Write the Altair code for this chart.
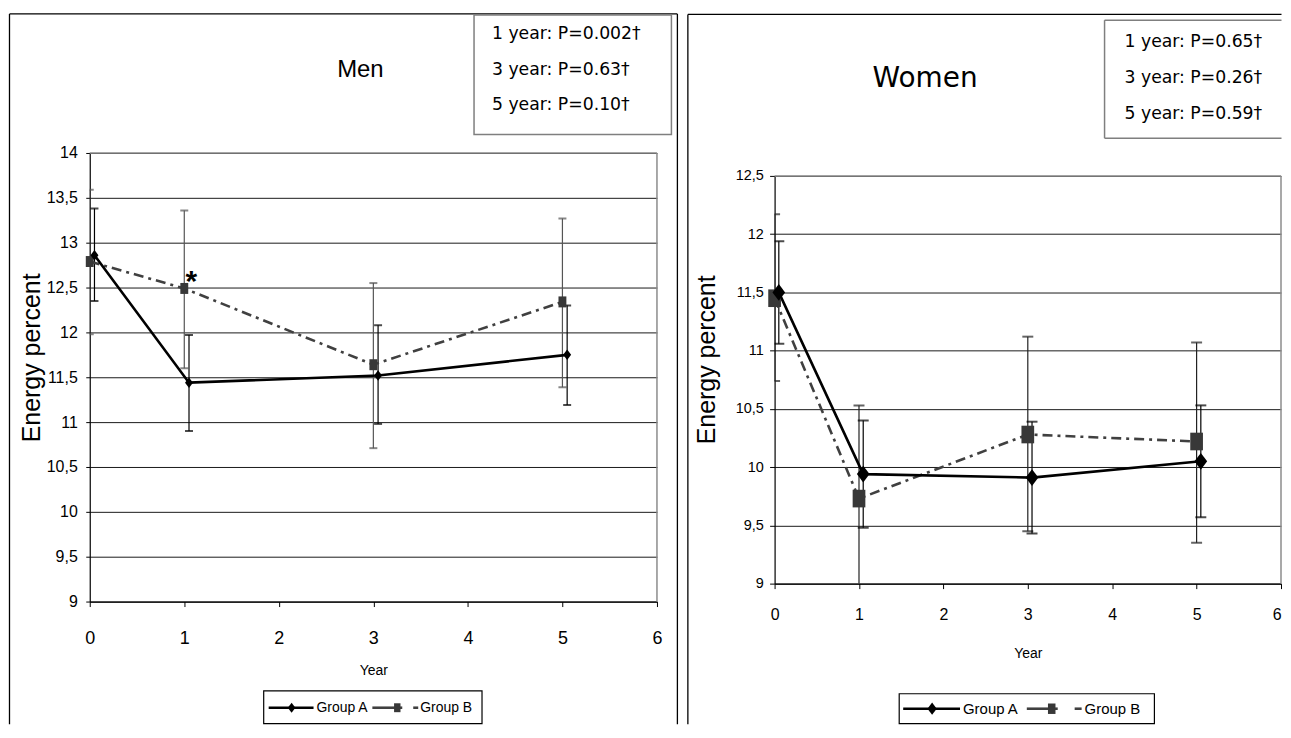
import altair as alt
import pandas as pd

# ---------------- data ----------------
years_a = [0.05, 1.05, 3.05, 5.05]   # Group A is drawn slightly right of the year
years_b = [0, 1, 3, 5]

men_a = [12.86, 11.44, 11.52, 11.75]
men_a_lo = [12.35, 10.90, 10.98, 11.19]
men_a_hi = [13.38, 11.97, 12.08, 12.30]
men_b = [12.79, 12.49, 11.64, 12.34]
men_b_lo = [11.98, 11.60, 10.71, 11.39]
men_b_hi = [13.59, 13.36, 12.55, 13.27]

women_a = [11.50, 9.94, 9.91, 10.05]
women_a_lo = [11.06, 9.48, 9.43, 9.57]
women_a_hi = [11.94, 10.40, 10.39, 10.53]
women_b = [11.45, 9.73, 10.28, 10.22]
women_b_lo = [10.74, 8.93, 9.45, 9.35]
women_b_hi = [12.17, 10.53, 11.12, 11.07]

x_ticks = [0, 1, 2, 3, 4, 5, 6]
men_y_ticks = [9, 9.5, 10, 10.5, 11, 11.5, 12, 12.5, 13, 13.5, 14]
women_y_ticks = [9, 9.5, 10, 10.5, 11, 11.5, 12, 12.5]

men_pvalues = ["1 year: P=0.002\u2020", "3 year: P=0.63\u2020", "5 year: P=0.10\u2020"]
women_pvalues = ["1 year: P=0.65\u2020", "3 year: P=0.26\u2020", "5 year: P=0.59\u2020"]
group_names = ["Group A", "Group B"]
star_year = 1
star_text = "*"

# ---------------- styles ----------------
SANS = "Liberation Sans, Arial, sans-serif"
PFONT = "DejaVu Sans, sans-serif"
DIAMOND = "M0,-1L0.76,0L0,1L-0.76,0Z"
RECT = "M-0.72,-1L0.72,-1L0.72,1L-0.72,1Z"
DASH_B = [10, 5, 3, 5]
ONE = pd.DataFrame({"k": [0]})


def panel(c):
    ox, oy = c["origin"]

    def X(p):
        return p - ox

    def Y(p):
        return p - oy

    deco_back, deco_front = [], []

    def hline(x1, x2, y, color="black", w=1.0, front=False):
        ch = alt.Chart(ONE).mark_rule(color=color, strokeWidth=w).encode(
            x=alt.value(X(x1)), x2=alt.value(X(x2)), y=alt.value(Y(y)))
        (deco_front if front else deco_back).append(ch)

    def vline(x, y1, y2, color="black", w=1.0):
        deco_back.append(alt.Chart(ONE).mark_rule(color=color, strokeWidth=w).encode(
            x=alt.value(X(x)), y=alt.value(Y(y1)), y2=alt.value(Y(y2))))

    def label(s, x, y, font, size, align="left", baseline="middle", front=False):
        ch = alt.Chart(ONE).mark_text(text=s, font=font, fontSize=size, align=align,
                                      baseline=baseline, color="black").encode(
            x=alt.value(X(x)), y=alt.value(Y(y)))
        (deco_front if front else deco_back).append(ch)

    def marker(shape, x, y, size, color):
        deco_front.append(alt.Chart(ONE).mark_point(shape=shape, filled=True, size=size,
                                                     color=color, opacity=1, strokeWidth=0).encode(
            x=alt.value(X(x)), y=alt.value(Y(y))))

    # outer frame
    for (x1, x2, y) in c["frame_h"]:
        hline(x1, x2, y, w=1.3)
    for (x, y1, y2) in c["frame_v"]:
        vline(x, y1, y2, w=1.3)
    # title
    tx, ty, tfont, tsize = c["title_pos"]
    label(c["title"], tx, ty, tfont, tsize, align="center")
    # p-value box
    if c.get("pbox_rect"):
        x1, x2, y1, y2 = c["pbox_rect"]
        deco_back.append(alt.Chart(ONE).mark_rect(fill="white", stroke="#7f7f7f", strokeWidth=1.5).encode(
            x=alt.value(X(x1)), x2=alt.value(X(x2)), y=alt.value(Y(y1)), y2=alt.value(Y(y2))))
    for (x1, x2, y) in c.get("pbox_h", []):
        hline(x1, x2, y, color="#7f7f7f", w=1.5)
    for (x, y1, y2) in c.get("pbox_v", []):
        vline(x, y1, y2, color="#7f7f7f", w=1.5)
    px, prow = c["ptext"]
    for s, yy in zip(c["pvalues"], prow):
        label(s, px, yy, PFONT, 17.3)

    # ---------------- data layers ----------------
    xs = alt.Scale(domain=[0, 6], nice=False, zero=False)
    ykw = dict(domain=c["ydom"], nice=False, zero=False)
    if c.get("yrange"):
        ykw["range"] = c["yrange"]
    ys = alt.Scale(**ykw)
    xaxis_kw = dict(values=x_ticks, format="d", title="Year", grid=False,
                    labelFont=SANS, labelFontSize=c["xlab_size"], labelColor="black",
                    labelBaseline="alphabetic", labelPadding=c["xlab_pad"],
                    labelFlush=False, labelOverlap=False,
                    tickSize=5, tickColor="black", tickWidth=1,
                    domainColor="black", domainWidth=1.2,
                    titleFont=SANS, titleFontSize=c["xtitle_size"], titleFontWeight="normal",
                    titleColor="black", titleBaseline="alphabetic", titleY=c["xtitle_y"],
                    titleX=c["width"] / 2, titleAlign="center")
    if c.get("last_label_right"):
        xaxis_kw["labelAlign"] = {"condition": {"test": "datum.value == 6", "value": "right"},
                                  "value": "center"}
    xaxis = alt.Axis(**xaxis_kw)
    yaxis = alt.Axis(values=c["yticks"], format="~g",
                     labelExpr="replace(datum.label, '.', ',')",
                     labelFont=SANS, labelFontSize=c["ylab_size"], labelColor="black",
                     labelPadding=c["ylab_pad"], labelFlush=False, labelOverlap=False,
                     tickSize=c["ytick"], tickColor="black", tickWidth=1,
                     domainColor="black", domainWidth=1.2,
                     grid=True, gridColor="#1a1a1a", gridWidth=1,
                     title="Energy percent", titleFont=SANS, titleFontSize=25,
                     titleFontWeight="normal", titleColor="black", titleAngle=270,
                     titleAlign="center", titleBaseline="middle",
                     titleX=c["ytitle_x"], titleY=c["ytitle_y"])

    da = pd.DataFrame({"year": years_a, "val": c["a"], "lo": c["a_lo"], "hi": c["a_hi"]})
    db = pd.DataFrame({"year": years_b, "val": c["b"], "lo": c["b_lo"], "hi": c["b_hi"]})

    def enc(field):
        return dict(x=alt.X("year:Q", scale=xs, axis=xaxis),
                    y=alt.Y(field + ":Q", scale=ys, axis=yaxis))

    data_layers = []
    for df, col in ((db, c["err_b"]), (da, c["err_a"])):
        data_layers.append(alt.Chart(df).mark_rule(color=col, strokeWidth=1.2, clip=True).encode(
            y2="hi:Q", **enc("lo")))
        for f in ("lo", "hi"):
            data_layers.append(alt.Chart(df).mark_tick(color=col, orient="horizontal",
                                                       size=c["cap"], thickness=2, clip=True).encode(**enc(f)))
    data_layers.append(alt.Chart(db).mark_line(color="#404040", strokeWidth=2.6,
                                               strokeDash=DASH_B).encode(**enc("val")))
    data_layers.append(alt.Chart(da).mark_line(color="black", strokeWidth=2.6).encode(**enc("val")))
    data_layers.append(alt.Chart(db).mark_point(shape=RECT, filled=True, size=c["sq_size"],
                                                color="#383838", opacity=1).encode(**enc("val")))
    data_layers.append(alt.Chart(da).mark_point(shape=DIAMOND, filled=True, size=c["dm_size"],
                                                color="black", opacity=1).encode(**enc("val")))
    if c.get("star"):
        data_layers.append(alt.Chart(db).transform_filter(f"datum.year == {star_year}").mark_text(
            text=star_text, font=SANS, fontSize=30, fontWeight="bold", color="black",
            align="center", baseline="alphabetic", dx=7, dy=3).encode(**enc("val")))

    # plot border (top and right, grey)
    top_y = c["ydom"][1]
    data_layers.append(alt.Chart(ONE).mark_rule(color="#8c8c8c", strokeWidth=1.5).encode(
        x=alt.X("xa:Q", scale=xs, axis=xaxis), x2=alt.X2("xb:Q"),
        y=alt.Y("yt:Q", scale=ys, axis=yaxis)).transform_calculate(xa="0", xb="6", yt=str(top_y)))
    data_layers.append(alt.Chart(ONE).mark_rule(color="#8c8c8c", strokeWidth=1.5).encode(
        x=alt.X("xb:Q", scale=xs, axis=xaxis),
        y=alt.Y("ya:Q", scale=ys, axis=yaxis), y2=alt.Y2("yt:Q")).transform_calculate(
        xb="6", ya=str(c["ydom"][0]), yt=str(top_y)))

    # legend
    lg = c["legend"]
    bx1, bx2, by1, by2 = lg["box"]
    deco_front.append(alt.Chart(ONE).mark_rect(fill="white", stroke="black", strokeWidth=1.2).encode(
        x=alt.value(X(bx1)), x2=alt.value(X(bx2)), y=alt.value(Y(by1)), y2=alt.value(Y(by2))))
    ly = lg["y"]
    hline(lg["a_line"][0], lg["a_line"][1], ly, w=2.6, front=True)
    marker(DIAMOND, lg["a_mark"], ly, lg["dm"], "black")
    label(group_names[0], lg["a_text"], ly, SANS, lg["font"], front=True)
    hline(lg["b_line"][0], lg["b_line"][1], ly, color="#404040", w=2.6, front=True)
    hline(lg["b_dash"][0], lg["b_dash"][1], ly, color="#404040", w=2.6, front=True)
    marker(RECT, lg["b_mark"], ly, lg["sq"], "#383838")
    label(group_names[1], lg["b_text"], ly, SANS, lg["font"], front=True)

    return alt.layer(*(deco_back + data_layers + deco_front)).properties(
        width=c["width"], height=c["height"])


BOTTOM = 724.5

men_cfg = dict(
    origin=(88.5, 151.5), width=569, height=450, ydom=[9, 14], yticks=men_y_ticks,
    frame_h=[(8, 678, 12)], frame_v=[(8, 12, BOTTOM), (678, 12, BOTTOM)],
    title="Men", title_pos=(360, 68, SANS, 24),
    pbox_rect=(474, 672, 13, 133), ptext=(492, [32, 68, 103]), pvalues=men_pvalues,
    xlab_size=18, xlab_pad=37, xtitle_size=14, xtitle_y=73,
    ylab_size=16, ylab_pad=8.5, ytick=4, ytitle_x=-58, ytitle_y=205,
    a=men_a, a_lo=men_a_lo, a_hi=men_a_hi, b=men_b, b_lo=men_b_lo, b_hi=men_b_hi,
    err_a="black", err_b="#555555", cap=8, sq_size=121, dm_size=110, star=True,
    legend=dict(box=(263, 482, 691, 724), y=708, a_line=(268, 313), a_mark=291, a_text=316,
                b_line=(372, 402), b_mark=397, b_dash=(413, 418), b_text=420,
                font=14, dm=100, sq=80),
)

women_cfg = dict(
    origin=(774, 151.5), width=508, height=432, ydom=[9, 12.5], yrange=[432, 23],
    yticks=women_y_ticks, last_label_right=True,
    frame_h=[(687, 1282.5, 12.5)], frame_v=[(687, 12.5, BOTTOM)],
    title="Women", title_pos=(925, 77, PFONT, 28),
    pbox_h=[(1105, 1282.5, 18.3), (1105, 1282.5, 136.7)], pbox_v=[(1105, 18.3, 136.7)],
    ptext=(1125, [40, 76, 112]), pvalues=women_pvalues,
    xlab_size=16, xlab_pad=30.5, xtitle_size=14, xtitle_y=74,
    ylab_size=14.5, ylab_pad=6.3, ytick=5, ytitle_x=-68.5, ytitle_y=207,
    a=women_a, a_lo=women_a_lo, a_hi=women_a_hi, b=women_b, b_lo=women_b_lo, b_hi=women_b_hi,
    err_a="black", err_b="#222222", cap=11, sq_size=313, dm_size=280, star=False,
    legend=dict(box=(899, 1155, 694, 724), y=709, a_line=(903, 960), a_mark=932, a_text=963,
                b_line=(1027, 1058), b_mark=1052, b_dash=(1075, 1082), b_text=1085,
                font=15, dm=150, sq=110),
)

chart = alt.hconcat(panel(men_cfg), panel(women_cfg), spacing=8).properties(
    padding={"left": 0, "top": 3.3, "right": 0, "bottom": 0}
).configure_view(stroke=None)

chart.save("out.html", embed_options={"renderer": "svg", "actions": False})
